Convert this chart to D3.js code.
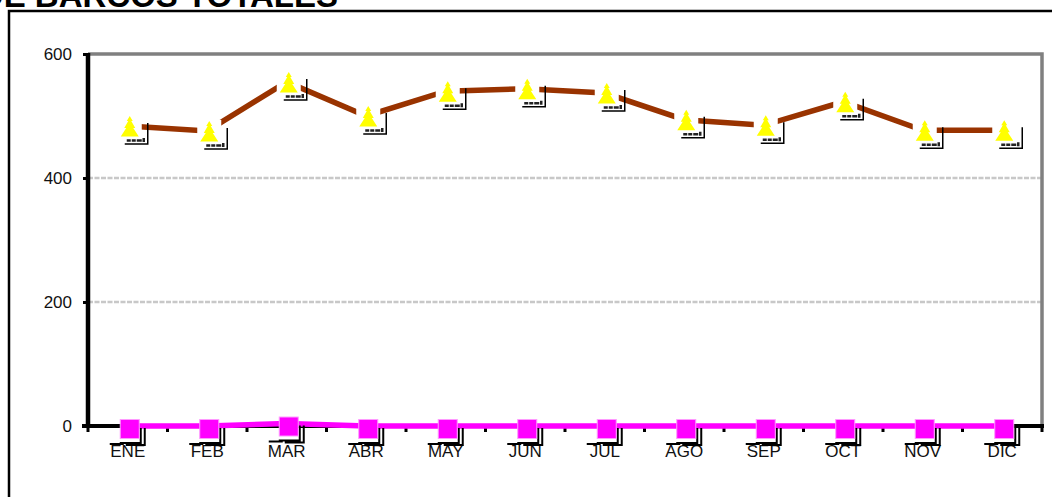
<!DOCTYPE html>
<html>
<head>
<meta charset="utf-8">
<script src="https://cdn.jsdelivr.net/npm/d3@7"></script>
<style>
  body { margin: 0; background: #fff; }
  svg { display: block; font-family: Arial, "Liberation Sans", sans-serif; }
</style>
</head>
<body>
<svg id="canvas" width="1052" height="497"></svg>
<script>
const months = ["ENE", "FEB", "MAR", "ABR", "MAY", "JUN", "JUL", "AGO", "SEP", "OCT", "NOV", "DIC"]
const totales = [484, 476, 555, 500, 540, 544, 537, 494, 485, 523, 477, 477]
const otros = [0, 0, 4, 0, 0, 0, 0, 0, 0, 0, 0, 0]
const yTicks = [0, 200, 400, 600]
const title = "NÚMERO DE BARCOS TOTALES"

const svg = d3.select("#canvas")

const x = d3.scaleBand().domain(months).range([88, 1042])
const y = d3.scaleLinear().domain([0, 600]).range([426, 54])
const cx = m => x(m) + x.bandwidth() / 2 + 2

// title, cut by the top of the picture
svg.append("text")
  .attr("x", 338).attr("y", 7)
  .attr("text-anchor", "end")
  .attr("font-size", 33).attr("font-weight", "bold")
  .text(title)

// outer frame
svg.append("rect")
  .attr("x", 9).attr("y", 11).attr("width", 1100).attr("height", 600)
  .attr("fill", "none").attr("stroke", "#000").attr("stroke-width", 2.5)

// grid
svg.append("g").selectAll("line")
  .data(yTicks.filter(d => d > 0 && d < 600))
  .enter().append("line")
  .attr("x1", 88).attr("x2", 1042)
  .attr("y1", d => y(d)).attr("y2", d => y(d))
  .attr("stroke", "#c8c8c8").attr("stroke-width", 2.5)
  .attr("stroke-dasharray", "5,1.5")

// top and right border of the plot
svg.append("path")
  .attr("d", `M88,${y(600)}H1042V${y(0)}`)
  .attr("fill", "none").attr("stroke", "#808080").attr("stroke-width", 3.5)

// y axis
const yAxis = svg.append("g").attr("transform", "translate(88,0)")
  .call(d3.axisLeft(y).tickValues(yTicks).tickSize(5).tickPadding(11))
yAxis.select(".domain").attr("stroke", "#000").attr("stroke-width", 4.5)
  .attr("d", `M0,${y(600) - 1}V${y(0) + 2}`)
yAxis.selectAll(".tick line").attr("stroke", "#000").attr("stroke-width", 3)
yAxis.selectAll(".tick text").attr("font-size", 17).attr("fill", "#111")
  .attr("font-family", "Arial, 'Liberation Sans', sans-serif")

// x axis
const xAxis = svg.append("g").attr("transform", `translate(0,${y(0)})`)
xAxis.append("line")
  .attr("x1", 82).attr("x2", 1044).attr("y1", 0).attr("y2", 0)
  .attr("stroke", "#000").attr("stroke-width", 4)
xAxis.selectAll(".xtick")
  .data(months.map(m => x(m)).concat([1042]))
  .enter().append("line")
  .attr("class", "xtick")
  .attr("x1", d => d).attr("x2", d => d)
  .attr("y1", 0).attr("y2", 6)
  .attr("stroke", "#000").attr("stroke-width", 3)
xAxis.selectAll("text")
  .data(months)
  .enter().append("text")
  .attr("x", d => x(d) + x.bandwidth() / 2)
  .attr("y", 31)
  .attr("text-anchor", "middle")
  .attr("font-size", 17).attr("fill", "#111")
  .text(d => d)

const line = d3.line()
  .x((d, i) => x(months[i]) + x.bandwidth() / 2)
  .y(d => y(d))

// magenta series
svg.append("path")
  .datum(otros)
  .attr("d", line)
  .attr("fill", "none").attr("stroke", "#ff00ff").attr("stroke-width", 5.5)

// brown series
svg.append("path")
  .datum(totales)
  .attr("d", line)
  .attr("fill", "none").attr("stroke", "#993300").attr("stroke-width", 5.5)

// square markers
const sq = svg.append("g").selectAll("g")
  .data(otros)
  .enter().append("g")
  .attr("transform", (d, i) => `translate(${cx(months[i])},${y(d) + 3})`)
sq.append("path")
  .attr("d", "M11,-1V14H-10 M15,-1V16H-4 M-20,15H-6")
  .attr("fill", "none").attr("stroke", "#000").attr("stroke-width", 2)
sq.append("rect")
  .attr("x", -9.5).attr("y", -9.5).attr("width", 19).attr("height", 19)
  .attr("fill", "#ff00ff").attr("stroke", "#ff99ff").attr("stroke-width", 1)

// bell markers
const tri = svg.append("g").selectAll("g")
  .data(totales)
  .enter().append("g")
  .attr("transform", (d, i) => `translate(${cx(months[i])},${y(d) + 1})`)
tri.append("rect")
  .attr("x", -12).attr("y", -12).attr("width", 24).attr("height", 26)
  .attr("fill", "#fff")
tri.append("path")
  .attr("d", "M18,-4V17H-5")
  .attr("fill", "none").attr("stroke", "#000").attr("stroke-width", 1.5)
tri.append("path")
  .attr("d", "M-3,13.5h4M2,13.5h4M7,13.5h5M14,11v4")
  .attr("fill", "none").attr("stroke", "#222").attr("stroke-width", 2.5)
tri.append("path")
  .attr("d", "M0,-11L3,-6H1.5L5.5,1H3.5L9,9.5H-9L-3.5,1H-5.5L-1.5,-6H-3Z")
  .attr("fill", "#ffff00")
</script>
</body>
</html>
